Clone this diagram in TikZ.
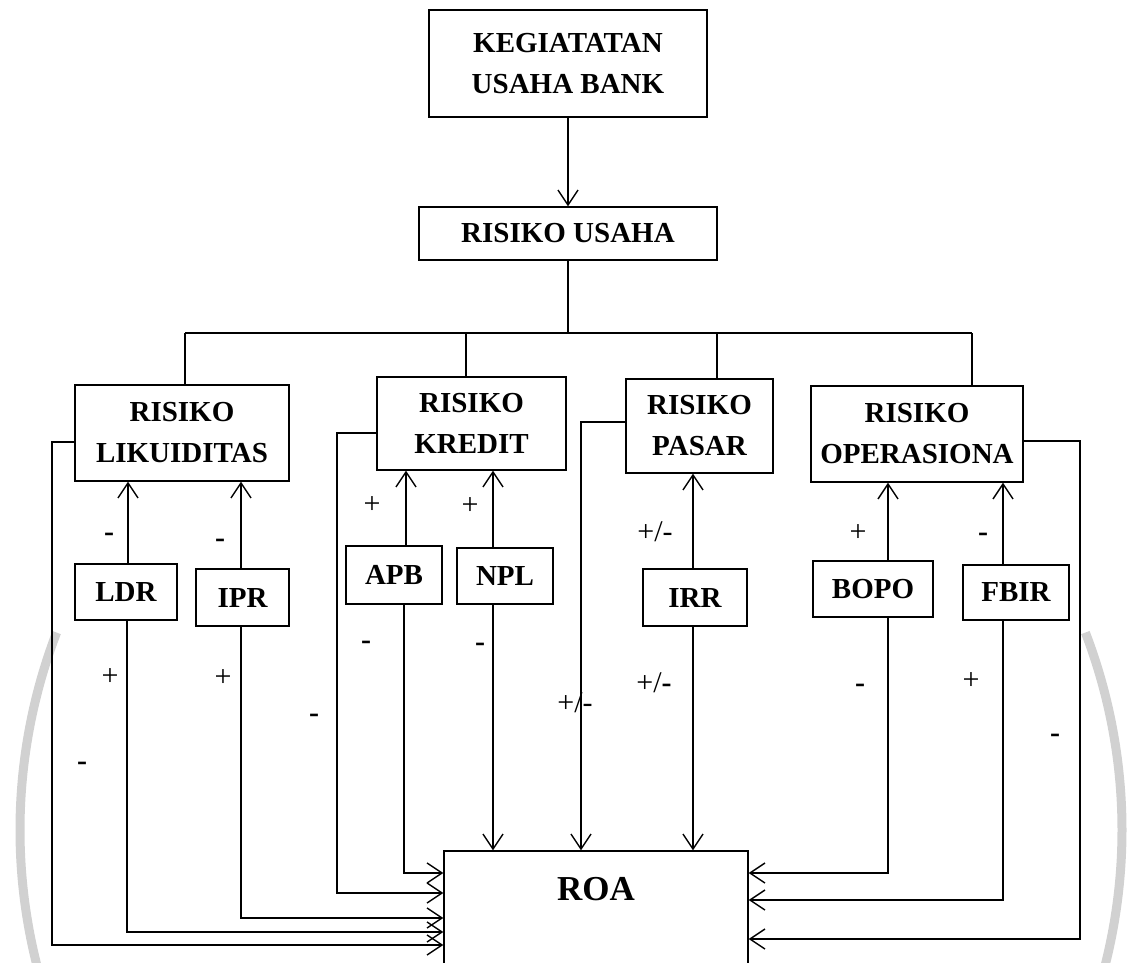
\documentclass[tikz,border=0pt]{standalone}
\usepackage{fontspec}
\setmainfont{Liberation Serif}
\usetikzlibrary{arrows.meta,calc}
\begin{document}
\begin{tikzpicture}[x=1pt,y=-1pt,
  box/.style={draw, line width=1.4pt, inner sep=0pt, font=\bfseries\fontsize{29}{41}\selectfont, align=center},
  ln/.style={line width=1.4pt},
  arr/.style={ln, -{Straight Barb[length=15pt,width=20pt,line width=1.4pt]}},
  sg/.style={inner sep=0pt, font=\fontsize{30}{32}\selectfont},
  sgb/.style={inner sep=0pt, font=\bfseries\fontsize{30}{32}\selectfont},
  wm/.style={line width=9pt, color=black!18}]
\useasboundingbox (0,0) rectangle (1135,962);
\clip (0,0) rectangle (1135,962);
% watermark arcs
\draw[wm] (571,830) ++(201:551) arc[start angle=201, end angle=160, radius=551];
\draw[wm] (571,830) ++(-21:551) arc[start angle=-21, end angle=20, radius=551];
% boxes
\node[box, minimum width=278pt, minimum height=107pt] (keg) at (568,63.5) {KEGIATATAN\\USAHA BANK};
\node[box, minimum width=298pt, minimum height=53pt] (ru) at (568,233.5) {RISIKO USAHA};
\node[box, minimum width=214pt, minimum height=96pt] (lik) at (182,433) {RISIKO\\LIKUIDITAS};
\node[box, minimum width=189pt, minimum height=93pt] (kre) at (471.5,423.5) {RISIKO\\KREDIT};
\node[box, minimum width=147pt, minimum height=94pt] (pas) at (699.5,426) {RISIKO\\PASAR};
\node[box, minimum width=212pt, minimum height=96pt] (ope) at (917,434) {RISIKO\\OPERASIONA};
\node[box, minimum width=102pt, minimum height=56pt] (ldr) at (126,592) {LDR};
\node[box, minimum width=93pt, minimum height=57pt] (ipr) at (242.5,597.5) {IPR};
\node[box, minimum width=96pt, minimum height=58pt] (apb) at (394,575) {APB};
\node[box, minimum width=96pt, minimum height=56pt] (npl) at (505,576) {NPL};
\node[box, minimum width=104pt, minimum height=57pt] (irr) at (695,597.5) {IRR};
\node[box, minimum width=120pt, minimum height=56pt] (bopo) at (873,589) {BOPO};
\node[box, minimum width=106pt, minimum height=55pt] (fbir) at (1016,592.5) {FBIR};
\node[box, minimum width=304pt, minimum height=150pt] (roa) at (596,926) {};
\node[inner sep=0pt, font=\bfseries\fontsize{35}{40}\selectfont] (roat) at (596,889) {ROA};
% top
\draw[arr] (keg.south) -- (ru.north);
\coordinate (b1) at (185,333);
\coordinate (b2) at (466,333);
\coordinate (b3) at (717,333);
\coordinate (b4) at (972,333);
\draw[ln] (ru.south) -- (ru.south |- b1);
\draw[ln] (b1) -- (b4);
\draw[ln] (b1) -- (b1 |- lik.north);
\draw[ln] (b2) -- (b2 |- kre.north);
\draw[ln] (b3) -- (b3 |- pas.north);
\draw[ln] (b4) -- (b4 |- ope.north);
% indicators to risks
\draw[arr] ([xshift=2pt]ldr.north) -- ([xshift=2pt]ldr.north |- lik.south);
\draw[arr] ([xshift=-1.5pt]ipr.north) -- ([xshift=-1.5pt]ipr.north |- lik.south);
\draw[arr] ([xshift=12pt]apb.north) -- ([xshift=12pt]apb.north |- kre.south);
\draw[arr] ([xshift=-12pt]npl.north) -- ([xshift=-12pt]npl.north |- kre.south);
\draw[arr] ([xshift=-2pt]irr.north) -- ([xshift=-2pt]irr.north |- pas.south);
\draw[arr] ([xshift=15pt]bopo.north) -- ([xshift=15pt]bopo.north |- ope.south);
\draw[arr] ([xshift=-13pt]fbir.north) -- ([xshift=-13pt]fbir.north |- ope.south);
% to ROA, left side
\coordinate (yAPB) at (404,873);
\coordinate (yKRE) at (337,893);
\coordinate (yIPR) at (241,918);
\coordinate (yLDR) at (127,932);
\coordinate (yLIK) at (52,945);
\draw[arr] ([xshift=10pt]apb.south) -- (yAPB) -- (roa.west |- yAPB);
\draw[arr] ([yshift=-9.5pt]kre.west) -| (yKRE) -- (roa.west |- yKRE);
\draw[arr] ([xshift=-1.5pt]ipr.south) -- (yIPR) -- (roa.west |- yIPR);
\draw[arr] ([xshift=1pt]ldr.south) -- (yLDR) -- (roa.west |- yLDR);
\draw[arr] ([yshift=-9pt]lik.west) -| (yLIK) -- (roa.west |- yLIK);
% to ROA, top
\coordinate (xPAS) at (581,422);
\draw[arr] ([xshift=-12pt]npl.south) -- ([xshift=-12pt]npl.south |- roa.north);
\draw[arr] ([yshift=4pt]pas.west) -- (xPAS) -- (xPAS |- roa.north);
\draw[arr] ([xshift=-2pt]irr.south) -- ([xshift=-2pt]irr.south |- roa.north);
% to ROA, right side
\coordinate (yBOPO) at (888,873);
\coordinate (yFBIR) at (1003,900);
\coordinate (yOPE) at (1080,939);
\draw[arr] ([xshift=15pt]bopo.south) -- (yBOPO) -- (roa.east |- yBOPO);
\draw[arr] ([xshift=-13pt]fbir.south) -- (yFBIR) -- (roa.east |- yFBIR);
\draw[arr] ([yshift=-7pt]ope.east) -| (yOPE) -- (roa.east |- yOPE);
% signs
\node[sgb] (s1) at (109,537) {-};
\node[sgb] (s2) at (220,543) {-};
\node[sg] (s3) at (372,505) {+};
\node[sg] (s4) at (470,506) {+};
\node[sg] (s5) at (655,532) {+/-};
\node[sg] (s6) at (858,533) {+};
\node[sgb] (s7) at (983,537) {-};
\node[sg] (s8) at (110,677) {+};
\node[sgb] (s9) at (82,766) {-};
\node[sg] (s10) at (223,678) {+};
\node[sgb] (s11) at (314,718) {-};
\node[sgb] (s12) at (366,645) {-};
\node[sgb] (s13) at (480,647) {-};
\node[sg] (s14) at (575,703) {+/-};
\node[sg] (s15) at (654,683) {+/\textbf{-}};
\node[sgb] (s16) at (860,688) {-};
\node[sg] (s17) at (971,681) {+};
\node[sgb] (s18) at (1055,738) {-};
\end{tikzpicture}
\end{document}
